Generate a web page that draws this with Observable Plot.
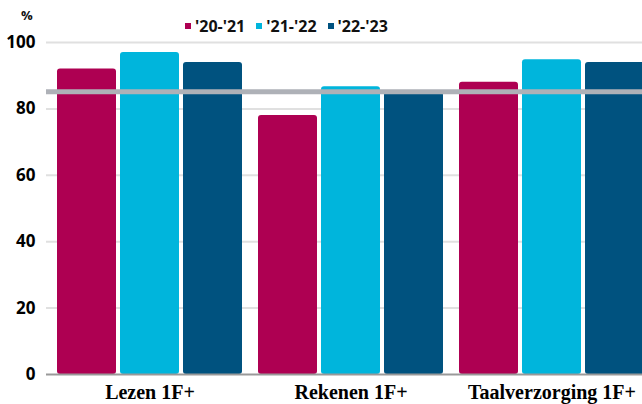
<!DOCTYPE html>
<html>
<head>
<meta charset="utf-8">
<script src="https://cdn.jsdelivr.net/npm/d3@7"></script>
<script src="https://cdn.jsdelivr.net/npm/@observablehq/plot@0.6"></script>
<style>
  html, body { margin: 0; padding: 0; background: #fff; }
  #wrap { position: relative; width: 642px; height: 404px; overflow: hidden; }
  #pct { position: absolute; left: 21px; top: 6px; font: bold 13px "Open Sans", sans-serif; color: #111; }
  #legend { position: absolute; left: 185px; top: 15px; display: flex; gap: 11px; font: bold 16px "Open Sans", sans-serif; color: #111; align-items: center; }
  #legend .item { display: flex; align-items: center; gap: 4px; }
  #legend .sw { width: 6px; height: 6px; display: inline-block; }
</style>
</head>
<body>
<div id="wrap">
  <div id="chart"></div>
  <div id="pct">%</div>
  <div id="legend"></div>
</div>
<script>
const categories = ["Lezen 1F+", "Rekenen 1F+", "Taalverzorging 1F+"];
const years = ["'20-'21", "'21-'22", "'22-'23"];
const colors = ["#ae0052", "#00b5dc", "#00527f"];
const values2021 = [92, 78, 88];
const values2122 = [97, 86.7, 94.8];
const values2223 = [94, 85, 94];
const referenceValue = 85.2;
const yTicks = [0, 20, 40, 60, 80, 100];

const series = [values2021, values2122, values2223];
const barW = 60, gap = 3;

const barMarks = series.map((vals, j) =>
  Plot.barY(categories.map((c, i) => ({category: c, value: vals[i]})), {
    x: "category", y: "value", fill: colors[j], rx: 3,
    insetLeft: j * (barW + gap), insetRight: (2 - j) * (barW + gap)
  })
);

const plot = Plot.plot({
  width: 642,
  height: 404,
  marginLeft: 46,
  marginRight: -13,
  marginTop: 42,
  marginBottom: 30,
  style: {fontFamily: "Open Sans, sans-serif", background: "#fff"},
  x: {domain: categories, paddingInner: 0.079, paddingOuter: 0.047, label: null},
  y: {domain: [0, 100], ticks: yTicks, label: null},
  marks: [
    Plot.ruleY(yTicks.filter(d => d > 0), {stroke: "#e0e0e0", strokeWidth: 2}),
    Plot.axisY({ticks: yTicks, tickSize: 0, tickPadding: 11, fontSize: 17, fontWeight: "bold", label: null, tickFormat: d => d}),
    Plot.axisX({tickSize: 0, tickPadding: 10, fontSize: 20, fontWeight: "bold", fontFamily: "Liberation Serif, serif", label: null}),
    ...barMarks,
    Plot.ruleY([0], {stroke: "#999", strokeWidth: 2}),
    Plot.ruleY([referenceValue], {stroke: "#aeb1b7", strokeWidth: 5})
  ]
});
document.getElementById("chart").appendChild(plot);

const lg = document.getElementById("legend");
years.forEach((y, i) => {
  const it = document.createElement("span");
  it.className = "item";
  it.innerHTML = `<span class="sw" style="background:${colors[i]}"></span><span>${y}</span>`;
  lg.appendChild(it);
});
</script>
</body>
</html>
